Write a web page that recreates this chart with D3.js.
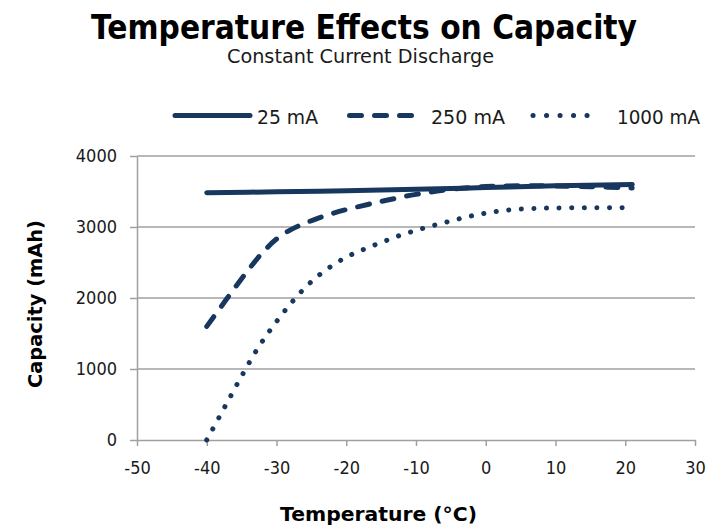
<!DOCTYPE html>
<html><head><meta charset="utf-8">
<script src="https://cdn.jsdelivr.net/npm/d3@7"></script>
<style>body{margin:0;background:#fff} svg{display:block}</style>
</head><body><svg id="chart" width="717" height="528"></svg>
<script>
// ---- data ----
const seriesNames = ["25 mA", "250 mA", "1000 mA"];
const temps25 = [-40, -30, -20, -10, 0, 10, 21];
const cap25   = [3483, 3495, 3510, 3530, 3555, 3580, 3600];
const temps250 = [-40, -38, -36, -34, -32, -30, -28, -26, -24, -22, -20, -15, -10, -5, 0, 5, 10, 15, 21];
const cap250   = [1600, 1870, 2140, 2400, 2640, 2830, 2960, 3050, 3125, 3190, 3245, 3360, 3460, 3530, 3570, 3580, 3578, 3568, 3550];
const temps1000 = [-40, -37.5, -35, -32.5, -30, -27.5, -25, -22.5, -20, -17.5, -15, -12.5, -10, -7.5, -5, -2.5, 0, 2.5, 5, 7.5, 10, 15, 21];
const cap1000   = [0, 450, 900, 1320, 1667, 1975, 2230, 2425, 2575, 2685, 2782, 2875, 2952, 3022, 3085, 3147, 3196, 3232, 3253, 3263, 3268, 3271, 3272];
const xTicks = [-50, -40, -30, -20, -10, 0, 10, 20, 30];
const yTicks = [0, 1000, 2000, 3000, 4000];

const color = "#17375e";
const gridColor = "#a0a0a0";
const labelFont = "'DejaVu Sans Condensed', 'DejaVu Sans', sans-serif";
const boldFont = "'DejaVu Sans', sans-serif";

const svg = d3.select("#chart");
const x = d3.scaleLinear().domain([-50, 30]).range([137, 695]);
const y = d3.scaleLinear().domain([0, 4000]).range([440, 156]);

// gridlines
svg.append("g").selectAll("line").data(yTicks.filter(d => d > 0)).join("line")
  .attr("x1", x(-50)).attr("x2", x(30))
  .attr("y1", d => y(d)).attr("y2", d => y(d))
  .attr("stroke", gridColor).attr("stroke-width", 1.5);

// axes
const fmt = d => String(d);
const xAxis = svg.append("g").attr("transform", `translate(0,${y(0)})`)
  .call(d3.axisBottom(x).tickValues(xTicks).tickFormat(fmt).tickSizeInner(6).tickSizeOuter(0).tickPadding(15));
const yAxis = svg.append("g").attr("transform", `translate(${x(-50)},0)`)
  .call(d3.axisLeft(y).tickValues(yTicks).tickFormat(fmt).tickSizeInner(7).tickSizeOuter(0).tickPadding(13));
[xAxis, yAxis].forEach(a => {
  a.select(".domain").attr("stroke", gridColor).attr("stroke-width", 1.5);
  a.selectAll(".tick line").attr("stroke", gridColor).attr("stroke-width", 1.5);
  a.selectAll(".tick text").attr("font-family", labelFont).attr("font-size", 18).attr("fill", "#1a1a1a");
});

// series
const line = d3.line().x(d => x(d[0])).y(d => y(d[1])).curve(d3.curveCatmullRom.alpha(0.5));
const series = [
  {name: seriesNames[0], pts: d3.zip(temps25, cap25), dash: null},
  {name: seriesNames[1], pts: d3.zip(temps250, cap250), dash: "12,13"},
  {name: seriesNames[2], pts: d3.zip(temps1000, cap1000), dash: "0.1,12.5"}
];
svg.append("g").selectAll("path").data(series).join("path")
  .attr("d", d => line(d.pts))
  .attr("fill", "none").attr("stroke", color).attr("stroke-width", 5)
  .attr("stroke-linecap", "round")
  .attr("stroke-dasharray", d => d.dash);

// legend
const legend = [
  {x1: 175, x2: 250, tx: 257, tl: 61, dash: null},
  {x1: 349.5, x2: 411.5, tx: 431, tl: 74, dash: "12,13"},
  {x1: 533, x2: 600.1, tx: 617, tl: 83, dash: "0.1,13.4"}
];
const lg = svg.append("g");
legend.forEach((l, i) => {
  lg.append("line").attr("x1", l.x1).attr("x2", l.x2).attr("y1", 115.5).attr("y2", 115.5)
    .attr("stroke", color).attr("stroke-width", 5).attr("stroke-linecap", "round")
    .attr("stroke-dasharray", l.dash);
  lg.append("text").attr("x", l.tx).attr("y", 123.5).text(seriesNames[i])
    .attr("font-family", labelFont).attr("font-size", 20).attr("fill", "#1a1a1a")
    .attr("textLength", l.tl).attr("lengthAdjust", "spacingAndGlyphs");
});

// titles
svg.append("text").attr("x", 91).attr("y", 39).text("Temperature Effects on Capacity")
  .attr("font-family", boldFont).attr("font-weight", "bold").attr("font-size", 33).attr("fill", "#000")
  .attr("textLength", 546).attr("lengthAdjust", "spacingAndGlyphs");
svg.append("text").attr("x", 227).attr("y", 63).text("Constant Current Discharge")
  .attr("font-family", labelFont).attr("font-size", 19).attr("fill", "#1a1a1a")
  .attr("textLength", 267).attr("lengthAdjust", "spacingAndGlyphs");
svg.append("text").attr("x", 280).attr("y", 521).text("Temperature (°C)")
  .attr("font-family", boldFont).attr("font-weight", "bold").attr("font-size", 20).attr("fill", "#000")
  .attr("textLength", 197).attr("lengthAdjust", "spacingAndGlyphs");
svg.append("text").attr("transform", "translate(42,388) rotate(-90)").text("Capacity (mAh)")
  .attr("font-family", boldFont).attr("font-weight", "bold").attr("font-size", 19).attr("fill", "#000")
  .attr("textLength", 168).attr("lengthAdjust", "spacingAndGlyphs");
</script>
</body></html>
